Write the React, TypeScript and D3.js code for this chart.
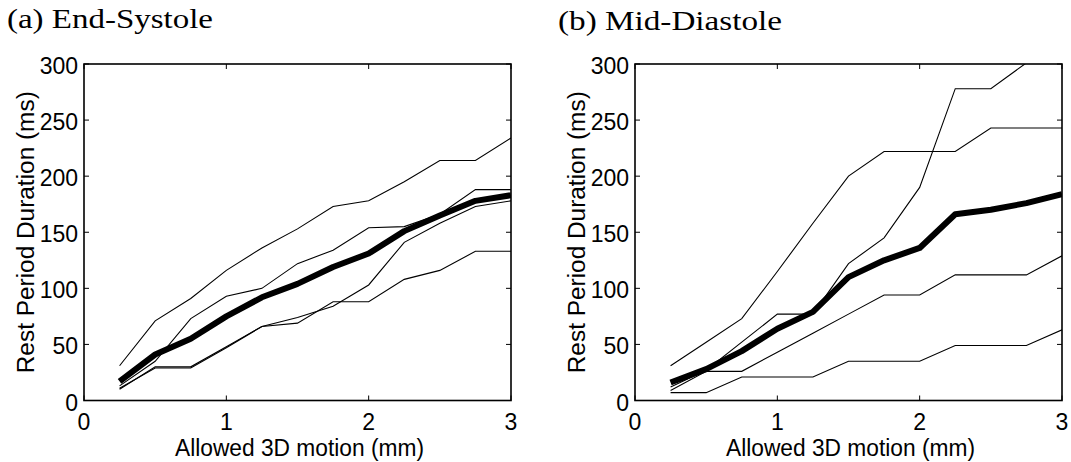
import React from "react";
import * as d3 from "d3";

// Allowed 3D motion (mm)
const motion = [0.25, 0.5, 0.75, 1, 1.25, 1.5, 1.75, 2, 2.25, 2.5, 2.75, 3];

// (a) End-Systole: individual subjects + mean
const esSubjectA = [31, 71, 91, 116, 136, 153, 173, 178, 195, 214, 214, 234];
const esSubjectB = [13, 35, 73, 93, 100, 122, 134, 154, 155, 166, 188, 188];
const esSubjectC = [10, 30, 30, 48, 66, 69, 88, 88, 108, 116, 133, 133];
const esSubjectD = [11, 29, 29, 47, 66, 74, 84, 103, 141, 158, 173, 178];
const esMean = [17, 41, 55, 75, 92, 104, 119, 131, 151, 165, 178, 183];

// (b) Mid-Diastole: individual subjects + mean
const mdSubjectA = [31, 52, 73, 115, 158, 200, 222, 222, 222, 243, 243, 243];
const mdSubjectB = [12, 27, 52, 77, 77, 122, 145, 190, 278, 278, 301, 340];
const mdSubjectC = [9, 26, 26, 43, 60, 77, 94, 94, 112, 112, 112, 129];
const mdSubjectD = [7, 7, 21, 21, 21, 35, 35, 35, 49, 49, 49, 63];
const mdMean = [16, 28, 44, 64, 79, 110, 125, 136, 166, 170, 176, 184];

const xTicks = [0, 1, 2, 3];
const yTicks = [0, 50, 100, 150, 200, 250, 300];

const titles = ["(a) End-Systole", "(b) Mid-Diastole"];
const xLabel = "Allowed 3D motion (mm)";
const yLabel = "Rest Period Duration (ms)";

const panels = [
  { title: titles[0], subjects: [esSubjectA, esSubjectB, esSubjectC, esSubjectD], mean: esMean, left: 84, titleX: 7, titleW: 206, titleY: 28 },
  { title: titles[1], subjects: [mdSubjectA, mdSubjectB, mdSubjectC, mdSubjectD], mean: mdMean, left: 635, titleX: 558, titleW: 224, titleY: 30 },
];

const W = 1071;
const H = 462;
const plotW = 427;
const top = 64;
const bottom = 400.5;
const sans = "'Liberation Sans', Arial, Helvetica, sans-serif";
const serif = "'Liberation Serif', 'DejaVu Serif', serif";

function Panel({ p, idx }: { p: typeof panels[number]; idx: number }) {
  const x = d3.scaleLinear().domain([0, 3]).range([p.left, p.left + plotW]);
  const y = d3.scaleLinear().domain([0, 300]).range([bottom, top]);
  const line = d3
    .line<number>()
    .x((_, i) => x(motion[i]))
    .y((v) => y(v));
  const clipId = `clip${idx}`;
  const tl = 5;
  return (
    <g>
      <defs>
        <clipPath id={clipId}>
          <rect x={p.left} y={top} width={plotW} height={bottom - top} />
        </clipPath>
      </defs>
      <text x={p.titleX} y={p.titleY} fontFamily={serif} fontSize={28} textLength={p.titleW} lengthAdjust="spacingAndGlyphs">
        {p.title}
      </text>
      <g clipPath={`url(#${clipId})`}>
        {p.subjects.map((s, i) => (
          <path key={i} d={line(s) || ""} fill="none" stroke="#000" strokeWidth={1.1} strokeLinejoin="miter" />
        ))}
        <path d={line(p.mean) || ""} fill="none" stroke="#000" strokeWidth={6} strokeLinejoin="round" />
      </g>
      <rect x={p.left} y={top} width={plotW} height={bottom - top} fill="none" stroke="#000" strokeWidth={1.6} />
      {xTicks.map((t) => (
        <g key={"x" + t}>
          <line x1={x(t)} x2={x(t)} y1={bottom} y2={bottom - tl} stroke="#000" strokeWidth={1} />
          <line x1={x(t)} x2={x(t)} y1={top} y2={top + tl} stroke="#000" strokeWidth={1} />
          <text x={x(t)} y={bottom + 29} textAnchor="middle" fontFamily={sans} fontSize={23}>
            {t}
          </text>
        </g>
      ))}
      {yTicks.map((t) => (
        <g key={"y" + t}>
          <line x1={p.left} x2={p.left + tl} y1={y(t)} y2={y(t)} stroke="#000" strokeWidth={1} />
          <line x1={p.left + plotW} x2={p.left + plotW - tl} y1={y(t)} y2={y(t)} stroke="#000" strokeWidth={1} />
          <text x={p.left - 6} y={y(t) + 10} textAnchor="end" fontFamily={sans} fontSize={23}>
            {t}
          </text>
        </g>
      ))}
      <text x={p.left + plotW / 2 + 2} y={456} textAnchor="middle" fontFamily={sans} fontSize={23} textLength={249} lengthAdjust="spacingAndGlyphs">
        {xLabel}
      </text>
      <text
        transform={`translate(${p.left - 50},${(top + bottom) / 2}) rotate(-90)`}
        textAnchor="middle"
        fontFamily={sans}
        fontSize={23}
        textLength={282}
        lengthAdjust="spacingAndGlyphs"
      >
        {yLabel}
      </text>
    </g>
  );
}

export default function App() {
  return (
    <svg width={W} height={H} style={{ position: "absolute", left: 0, top: 0, background: "#fff" }}>
      <rect width={W} height={H} fill="#fff" />
      {panels.map((p, i) => (
        <Panel key={i} p={p} idx={i} />
      ))}
    </svg>
  );
}
